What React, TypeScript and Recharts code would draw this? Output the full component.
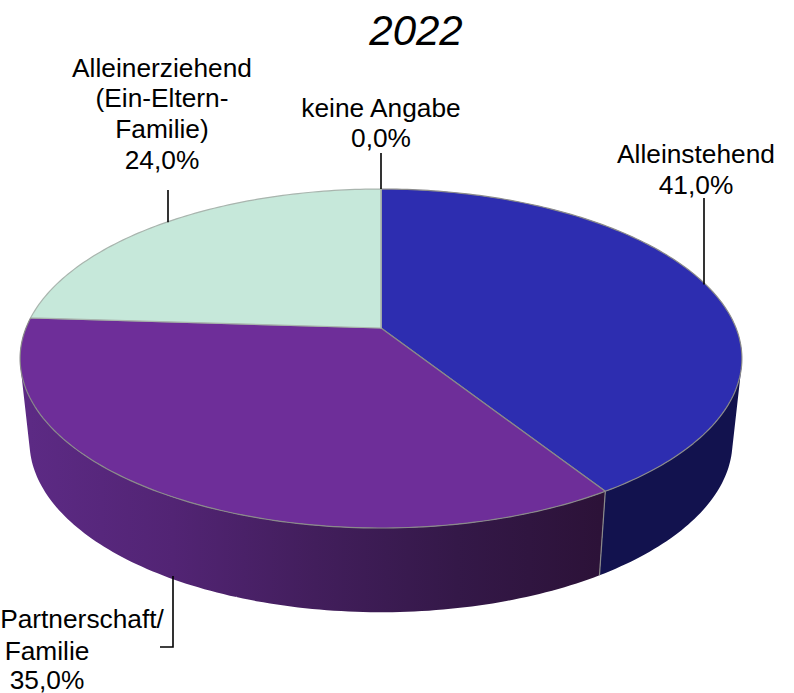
import React from "react";
import { PieChart, Pie } from "recharts";

const categories = ["Alleinstehend", "Partnerschaft/Familie", "Alleinerziehend", "keine Angabe"];
const shares = [41, 35, 24, 0];
const labelLines = [
  ["Alleinstehend", "41,0%"],
  ["Partnerschaft/", "Familie", "35,0%"],
  ["Alleinerziehend", "(Ein-Eltern-", "Familie)", "24,0%"],
  ["keine Angabe", "0,0%"],
];
const title = "2022";

const chartData = categories.map((name, i) => ({ name, value: shares[i], index: i }));

// layout and style
const W = 794;
const H = 693;
const CX = 381;
const CY = 328;
const R = 355;
const TILT = 164 / 355; // vertical squash of the disc
const PERSP = 0.18; // perspective strength
const BOTTOM = { dy: 83, scale: 0.974, ys: 165 / 164 };
const TOP_FILL = ["#2d2db0", "#6e2e99", "#c6e8da", "#c6e8da"];
const EDGE = "#8a8a8a";
const BLUE_SIDE = "#12124e";
const PURPLE_STOPS: [number, string][] = [
  [0, "#5c2a84"],
  [0.25, "#522474"],
  [0.5, "#421e5c"],
  [0.75, "#341848"],
  [1, "#2c1238"],
];
const LINE_POS: { x: number; y: number }[][] = [
  [{ x: 696, y: 163 }, { x: 696, y: 194 }],
  [{ x: 82, y: 628 }, { x: 47, y: 660 }, { x: 47, y: 689 }],
  [{ x: 162, y: 77 }, { x: 162, y: 107 }, { x: 162, y: 138 }, { x: 162, y: 169 }],
  [{ x: 381, y: 117 }, { x: 381, y: 147 }],
];
// leader x, then the bend points towards the text
const LEADER_X = [704, 173, 168, 381];
const LEADER_END: number[][][] = [
  [[704, 198]],
  [[173, 647], [160, 647]],
  [[168, 190]],
  [[381, 153]],
];

type Pt = { x: number; y: number };

const project = (cx: number, cy: number, r: number, clockDeg: number, lower = false): Pt => {
  const t = (clockDeg * Math.PI) / 180;
  const x = Math.sin(t);
  const y = -Math.cos(t);
  const w = 1 - PERSP * y;
  const s = lower ? BOTTOM.scale : 1;
  const ys = lower ? BOTTOM.ys : 1;
  return {
    x: cx + (r * s * x) / w,
    y: cy + (lower ? BOTTOM.dy : 0) + (r * TILT * ys * y) / w,
  };
};

const fmt = (p: Pt) => `${p.x.toFixed(2)},${p.y.toFixed(2)}`;

// every facet wound the same way, so that the union fills with no holes
const facet = (quad: Pt[]) => {
  let area = 0;
  quad.forEach((p, i) => {
    const q = quad[(i + 1) % quad.length];
    area += p.x * q.y - q.x * p.y;
  });
  const ordered = area < 0 ? [...quad].reverse() : quad;
  return "M" + ordered.map(fmt).join("L") + "Z";
};

const SliceShape = (props: any) => {
  const { cx, cy, outerRadius, startAngle, endAngle, index } = props;
  const from = 90 - startAngle;
  const to = 90 - endAngle;
  const steps = Math.max(1, Math.ceil(to - from));
  const pts: Pt[] = [];
  for (let i = 0; i <= steps; i++) {
    pts.push(project(cx, cy, outerRadius, from + ((to - from) * i) / steps));
  }
  const d = `M${cx},${cy} ` + pts.map((p) => "L" + fmt(p)).join(" ") + " Z";

  const sFrom = Math.max(from, 88);
  const sTo = Math.min(to, 272);
  let side: React.ReactNode = null;
  if (sTo > sFrom) {
    const n = Math.ceil(sTo - sFrom);
    let sideD = "";
    for (let i = 0; i < n; i++) {
      const a = sFrom + ((sTo - sFrom) * i) / n;
      const b = sFrom + ((sTo - sFrom) * (i + 1)) / n;
      sideD += facet([
        project(cx, cy, outerRadius, a),
        project(cx, cy, outerRadius, b),
        project(cx, cy, outerRadius, b, true),
        project(cx, cy, outerRadius, a, true),
      ]);
    }
    const gradId = `side-${index}`;
    side = (
      <>
        {index === 1 && (
          <defs>
            <linearGradient id={gradId} gradientUnits="userSpaceOnUse" x1={30} y1={0} x2={600} y2={0}>
              {PURPLE_STOPS.map(([o, c]) => (
                <stop key={o} offset={o} stopColor={c} />
              ))}
            </linearGradient>
          </defs>
        )}
        <path d={sideD} fillRule="nonzero" fill={index === 1 ? `url(#${gradId})` : BLUE_SIDE} />
      </>
    );
  }
  let seam: React.ReactNode = null;
  if (index === 1) {
    const a = project(cx, cy, outerRadius, from);
    const b = project(cx, cy, outerRadius, from, true);
    seam = <line x1={a.x} y1={a.y} x2={b.x} y2={b.y} stroke={EDGE} strokeWidth={1.2} />;
  }
  return (
    <g>
      {side}
      {seam}
      <path d={d} fill={TOP_FILL[index]} stroke={index >= 2 ? "#a9b5ae" : EDGE} strokeWidth={1.2} strokeLinejoin="round" />
    </g>
  );
};

const SliceLabel = (props: any) => {
  const { cx, cy, outerRadius, midAngle, index } = props;
  const onSide = index === 1;
  const start = project(cx, cy, outerRadius, 90 - midAngle, onSide);
  const path = [[LEADER_X[index], onSide ? start.y - 3 : start.y], ...LEADER_END[index]]
    .map((p, i) => `${i ? "L" : "M"}${p[0]},${p[1].toFixed(1)}`)
    .join(" ");
  return (
    <g>
      <path d={path} fill="none" stroke="#000" strokeWidth={1.6} />
      {labelLines[index].map((t, i) => (
        <text
          key={i}
          x={LINE_POS[index][i].x}
          y={LINE_POS[index][i].y}
          textAnchor="middle"
          fontFamily="'Liberation Sans', Arial, sans-serif"
          fontSize={26.3}
          fill="#000"
        >
          {t}
        </text>
      ))}
    </g>
  );
};

export default function App() {
  return (
    <div style={{ position: "absolute", left: 0, top: 0, width: W, height: H, background: "#fff", overflow: "hidden" }}>
      <PieChart width={W} height={H} margin={{ top: 0, right: 0, bottom: 0, left: 0 }}>
        <text
          x={416}
          y={45}
          textAnchor="middle"
          fontFamily="'Liberation Sans', Arial, sans-serif"
          fontStyle="italic"
          fontSize={42}
          fill="#000"
        >
          {title}
        </text>
        <Pie
          data={chartData}
          dataKey="value"
          nameKey="name"
          cx={CX}
          cy={CY}
          innerRadius={0}
          outerRadius={R}
          startAngle={90}
          endAngle={-270}
          paddingAngle={0}
          stroke="none"
          shape={SliceShape}
          label={SliceLabel}
          labelLine={false}
          isAnimationActive={false}
        />
      </PieChart>
    </div>
  );
}
